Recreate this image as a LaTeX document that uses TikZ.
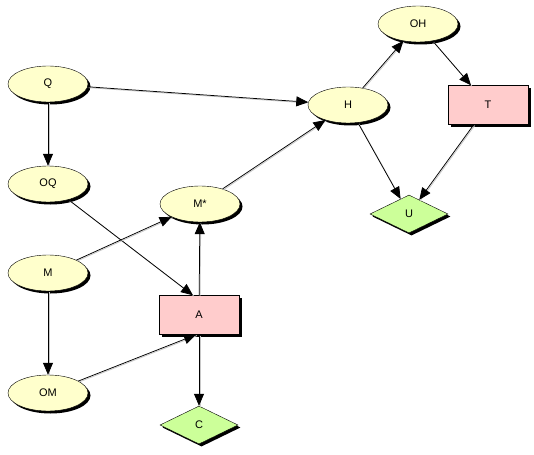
\documentclass[tikz,border=0pt]{standalone}
\usepackage{fontspec}
\setmainfont{Liberation Sans}
\usepackage{xcolor}
\usetikzlibrary{arrows.meta,shapes.geometric,shadows}
\definecolor{ink}{HTML}{000000}
\definecolor{chance}{HTML}{FFFFCC}
\definecolor{decide}{HTML}{FFCCCC}
\definecolor{util}{HTML}{CCFF99}
\definecolor{edgeshade}{HTML}{C8C8C8}
\tikzset{
  shade/.style={drop shadow={shadow xshift=2.5pt,shadow yshift=-2.5pt,fill=black,opacity=1}},
  chancenode/.style={ellipse,draw=ink,fill=chance,shade,minimum width=80pt,minimum height=36pt,inner sep=0pt,font=\fontsize{11}{13}\selectfont},
  decnode/.style={rectangle,draw=ink,fill=decide,shade,minimum width=80pt,minimum height=39pt,inner sep=0pt,font=\fontsize{11}{13}\selectfont},
  utilnode/.style={diamond,draw=ink,fill=util,shade,minimum width=78pt,minimum height=38pt,inner sep=0pt,font=\fontsize{11}{13}\selectfont},
  link/.style={-{Triangle[length=12pt,width=10pt]},draw=ink,line width=0.75pt,
    preaction={draw=edgeshade,-,line width=0.8pt,transform canvas={shift={(0.9pt,-0.9pt)}}}}
}
\begin{document}
\begin{tikzpicture}[x=1pt,y=-1pt]
  \useasboundingbox (0,0) rectangle (534,454);
  % chance nodes
  \node[chancenode] (Q) at (48,84) {Q};
  \node[chancenode] (OQ) at (48,184) {OQ};
  \node[chancenode] (M) at (48,273) {M};
  \node[chancenode] (OM) at (48,393) {OM};
  \node[chancenode] (Mstar) at (200,204) {M*};
  \node[chancenode] (H) at (348,105) {H};
  \node[chancenode] (OH) at (418,24) {OH};
  % decisions and utilities
  \node[decnode] (A) at (199,315) {A};
  \node[decnode] (T) at (488,105) {T};
  \node[utilnode] (C) at (199,425) {C};
  \node[utilnode] (U) at (409,214) {U};
  \draw[link] (Q) -- (H);
  \draw[link] (Q) -- (OQ);
  \draw[link] (OQ) -- ([xshift=-6pt]A.north);
  \draw[link] (M) -- (Mstar);
  \draw[link] (M) -- (OM);
  \draw[link] (OM) -- ([xshift=-3pt]A.south);
  \draw[link] (A) -- (Mstar);
  \draw[link] (A) -- (C);
  \draw[link] (Mstar) -- (H);
  \draw[link] (H) -- (OH);
  \draw[link] (H) -- (U);
  \draw[link] (OH) -- (T);
  \draw[link] (T) -- (U);
\end{tikzpicture}
\end{document}
